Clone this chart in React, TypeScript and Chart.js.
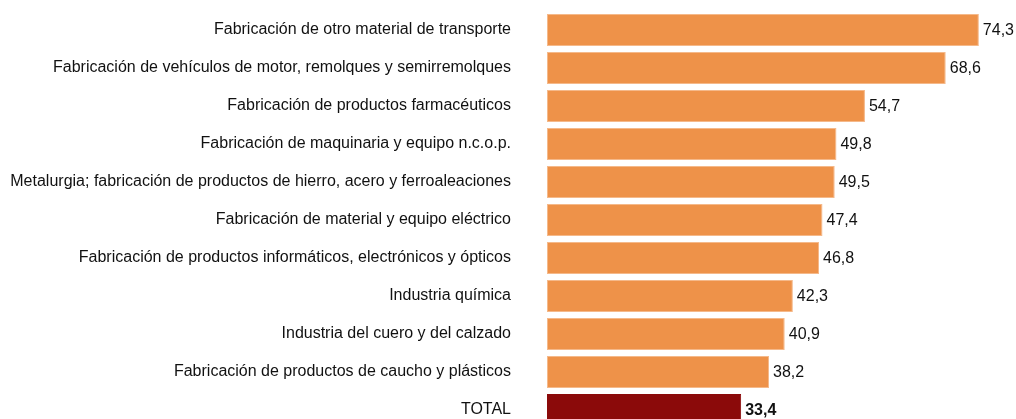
import React, { useEffect, useRef } from "react";
import { Chart, registerables } from "chart.js";

Chart.register(...registerables);

const categories: string[] = [
  "Fabricación de otro material de transporte",
  "Fabricación de vehículos de motor, remolques y semirremolques",
  "Fabricación de productos farmacéuticos",
  "Fabricación de maquinaria y equipo n.c.o.p.",
  "Metalurgia; fabricación de productos de hierro, acero y ferroaleaciones",
  "Fabricación de material y equipo eléctrico",
  "Fabricación de productos informáticos, electrónicos y ópticos",
  "Industria química",
  "Industria del cuero y del calzado",
  "Fabricación de productos de caucho y plásticos",
  "TOTAL",
];

const values: number[] = [74.3, 68.6, 54.7, 49.8, 49.5, 47.4, 46.8, 42.3, 40.9, 38.2, 33.4];

const ORANGE = "#EE9249";
const DARK_RED = "#8B0A0A";

const FONT = "'Liberation Sans', Arial, Helvetica, sans-serif";

const valueLabelPlugin = {
  id: "valueLabels",
  afterDatasetsDraw(chart: any) {
    const ctx = chart.ctx;
    const meta = chart.getDatasetMeta(0);
    ctx.save();
    ctx.textBaseline = "middle";
    ctx.textAlign = "left";
    ctx.fillStyle = "#111";
    meta.data.forEach((bar: any, i: number) => {
      const isTotal = categories[i] === "TOTAL";
      ctx.font = `${isTotal ? "bold " : ""}16px ${FONT}`;
      const txt = values[i].toFixed(1).replace(".", ",");
      ctx.fillText(txt, bar.x + 4, bar.y + 1);
    });
    ctx.restore();
  },
};

export default function App() {
  const ref = useRef<HTMLCanvasElement | null>(null);

  useEffect(() => {
    document.body.style.margin = "0";
    if (!ref.current) return;
    const chart = new Chart(ref.current, {
      type: "bar",
      data: {
        labels: categories,
        datasets: [
          {
            data: values,
            backgroundColor: categories.map((c) => (c === "TOTAL" ? DARK_RED : ORANGE)),
            borderColor: categories.map((c) => (c === "TOTAL" ? DARK_RED : "#F5B98A")),
            borderWidth: 1,
            borderSkipped: false,
            barPercentage: 32 / 38,
            categoryPercentage: 1,
          },
        ],
      },
      options: {
        indexAxis: "y",
        responsive: true,
        animation: false,
        maintainAspectRatio: false,
        layout: { padding: { top: 11, bottom: 11, left: 0, right: 4 } },
        plugins: {
          legend: { display: false },
          tooltip: { enabled: false },
        },
        scales: {
          x: {
            display: false,
            min: 0,
            max: 80,
          },
          y: {
            grid: { display: false, drawTicks: true, tickLength: 36 },
            border: { display: false },
            ticks: {
              padding: 0,
              color: "#111",
              font: { family: FONT, size: 16 },
              autoSkip: false,
            },
            afterFit(scale: any) {
              scale.width = 547;
            },
          },
        },
      },
      plugins: [valueLabelPlugin],
    });
    return () => chart.destroy();
  }, []);

  return (
    <div style={{ position: "fixed", top: 0, left: 0, width: 1016, height: 440 }}>
      <canvas ref={ref} />
    </div>
  );
}
